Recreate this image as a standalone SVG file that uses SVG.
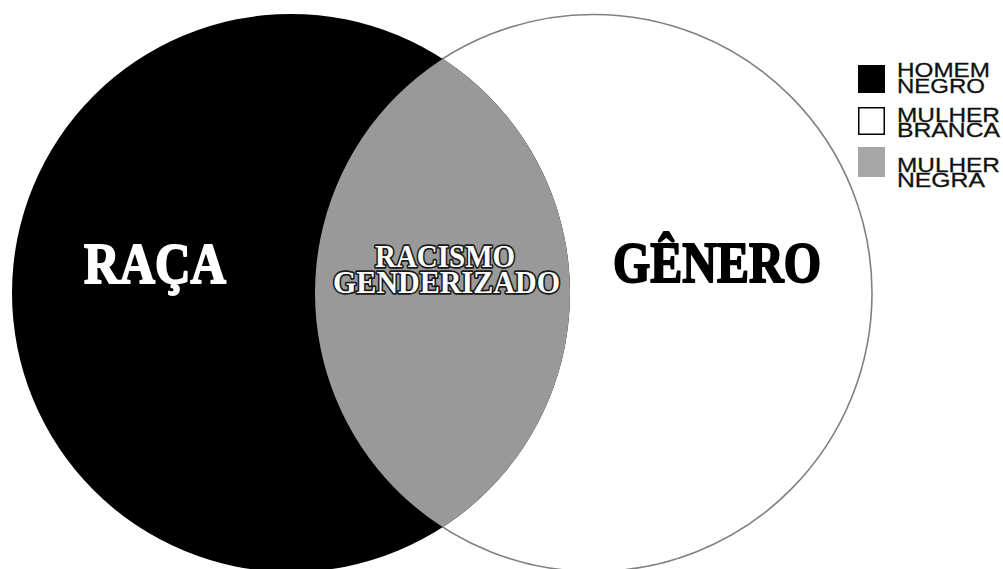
<svg xmlns="http://www.w3.org/2000/svg" width="1003" height="569" viewBox="0 0 1003 569">
<style>
.big{font-family:"Liberation Serif","DejaVu Serif",serif;font-weight:bold;font-size:57px;stroke-width:2;stroke-linejoin:round}
.mid{font-family:"Liberation Serif","DejaVu Serif",serif;font-weight:bold;font-size:32px;fill:#fff;stroke:#1a1a1a;stroke-width:3.5;paint-order:stroke fill;stroke-linejoin:round}
.leg{font-family:"Liberation Sans","Arial",sans-serif;font-size:21px;fill:#111;stroke:#111;stroke-width:0.3}
</style>
<defs>
<clipPath id="blackClip"><circle cx="291" cy="293" r="279"/></clipPath>
</defs>
<rect width="1003" height="569" fill="#fff"/>
<g id="genero-circle">
<circle cx="593.5" cy="293" r="278.5" fill="#fff" stroke="#808080" stroke-width="1.6"/>
</g>
<g id="raca-circle">
<circle cx="291" cy="293" r="279" fill="#000"/>
</g>
<g id="intersection">
<circle cx="593.5" cy="293" r="278.5" fill="#999" clip-path="url(#blackClip)"/>
</g>
<g id="labels">
<text class="big" x="84" y="283" fill="#fff" stroke="#fff" textLength="142" lengthAdjust="spacingAndGlyphs">RAÇA</text>
<text class="big" x="613" y="282" fill="#000" stroke="#000" textLength="208" lengthAdjust="spacingAndGlyphs">GÊNERO</text>
<text class="mid" x="375" y="267" textLength="140" lengthAdjust="spacingAndGlyphs">RACISMO</text>
<text class="mid" x="333" y="293" textLength="227" lengthAdjust="spacingAndGlyphs">GENDERIZADO</text>
</g>
<g id="legend">
<g id="leg-homem-negro">
<rect x="858" y="65" width="27" height="28" fill="#000"/>
<text class="leg" x="897" y="77" textLength="93" lengthAdjust="spacingAndGlyphs">HOMEM</text>
<text class="leg" x="897" y="93" textLength="88" lengthAdjust="spacingAndGlyphs">NEGRO</text>
</g>
<g id="leg-mulher-branca">
<rect x="858.75" y="107.75" width="25.5" height="26.5" fill="#fff" stroke="#000" stroke-width="1.5"/>
<text class="leg" x="897" y="122" textLength="103" lengthAdjust="spacingAndGlyphs">MULHER</text>
<text class="leg" x="897" y="137" textLength="103" lengthAdjust="spacingAndGlyphs">BRANCA</text>
</g>
<g id="leg-mulher-negra">
<rect x="858" y="147" width="27" height="30" fill="#a6a6a6"/>
<text class="leg" x="897" y="172" textLength="103" lengthAdjust="spacingAndGlyphs">MULHER</text>
<text class="leg" x="897" y="187" textLength="88" lengthAdjust="spacingAndGlyphs">NEGRA</text>
</g>
</g>
</svg>
